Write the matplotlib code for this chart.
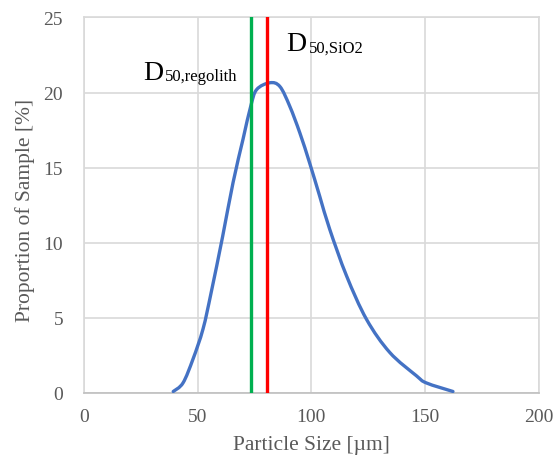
import numpy as np
import matplotlib
matplotlib.use("Agg")
import matplotlib.pyplot as plt
from matplotlib.path import Path
from matplotlib.patches import PathPatch

# Particle size distribution
size_um = [39.3, 43.6, 48.0, 52.4, 56.0, 61.0, 65.6, 70.0, 73.4, 76.0,
           81.8, 86.2, 90.5, 95.0, 99.3, 103.7, 108.1, 115.5, 124.3, 134.5,
           146.2, 150.6, 162.3]
proportion = [0.1, 0.67, 2.26, 4.26, 6.7, 10.4, 14.0, 16.9, 19.1, 20.2,
              20.65, 20.4, 19.1, 17.3, 15.3, 13.1, 10.9, 7.8, 4.9, 2.7,
              1.15, 0.67, 0.1]

d50_regolith = 73.4
d50_sio2 = 80.7

xticks = [0, 50, 100, 150, 200]
yticks = [0, 5, 10, 15, 20, 25]


def smooth_path(x, y):
    # Excel-like smoothed line: cubic bezier through every point
    p = np.column_stack([x, y])
    n = len(p)
    verts = [p[0]]
    codes = [Path.MOVETO]
    for i in range(n - 1):
        p_prev = p[i - 1] if i > 0 else p[i]
        p_next2 = p[i + 2] if i + 2 < n else p[i + 1]
        c1 = p[i] + (p[i + 1] - p_prev) / 6.0
        c2 = p[i + 1] - (p_next2 - p[i]) / 6.0
        verts += [c1, c2, p[i + 1]]
        codes += [Path.CURVE4] * 3
    return Path(verts, codes)


plt.rcParams['font.family'] = ['Liberation Serif', 'DejaVu Serif']

fig = plt.figure(figsize=(5.59, 4.60), dpi=100)
ax = fig.add_axes([0.150, 0.1435, 0.8137, 0.8165])

ax.add_patch(PathPatch(smooth_path(size_um, proportion), fill=False, edgecolor='#4472C4',
                       lw=2.4, capstyle='round', zorder=3))
ax.axvline(d50_regolith, color='#00B050', lw=2.4, zorder=4)
ax.axvline(d50_sio2, color='#FF0000', lw=2.4, zorder=4)

ax.set_xlim(0, 200)
ax.set_ylim(0, 25)
ax.set_xticks(xticks)
ax.set_yticks(yticks)
ax.grid(True, color='#D9D9D9', lw=1.2, zorder=0)
ax.set_axisbelow(True)
for s in ['top', 'left', 'right']:
    ax.spines[s].set_color('#D9D9D9')
    ax.spines[s].set_linewidth(1.2)
ax.spines['bottom'].set_color('#BFBFBF')
ax.spines['bottom'].set_linewidth(1.2)

ax.tick_params(length=0, labelsize=14, labelcolor='#595959')
ax.tick_params(axis='y', pad=15)
ax.tick_params(axis='x', pad=11)

ax.set_xlabel('Particle Size [µm]', fontsize=15.5, color='#595959')
ax.set_ylabel('Proportion of Sample [%]', fontsize=15.5, color='#595959', va='center')
ax.xaxis.set_label_coords(0.5, -0.112)
ax.yaxis.set_label_coords(-0.130, 0.49)

# D50 labels: big "D" with a same-baseline subscript
ax.annotate('D', xy=(25.9, 20.9), fontsize=20, color='black', va='baseline')
ax.annotate('50,regolith', xy=(25.9, 20.9), xytext=(16, -1), textcoords='offset points',
            fontsize=12, color='black', va='baseline')
ax.annotate('D', xy=(89.0, 22.8), fontsize=20, color='black', va='baseline')
ax.annotate('50,SiO2', xy=(89.0, 22.8), xytext=(16, -1), textcoords='offset points',
            fontsize=12, color='black', va='baseline')

fig.savefig('out.png', dpi=100)
